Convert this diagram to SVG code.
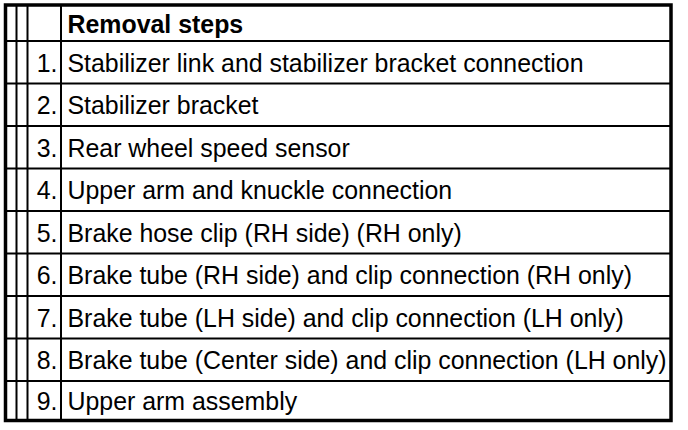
<svg xmlns="http://www.w3.org/2000/svg" width="688" height="430" viewBox="0 0 688 430">
<style>
.thick{stroke:#000;stroke-width:3.5;fill:none}
.thin{stroke:#000;stroke-width:2;fill:none}
.t{font-family:"Liberation Sans",Arial,sans-serif;font-size:24.9px;fill:#000}
.h{font-weight:bold}
.n{text-anchor:end}
</style>
<rect width="688" height="430" fill="#fff"/>
<g id="connectors">
<line class="thin" x1="16.5" y1="5" x2="16.5" y2="420"/>
<line class="thin" x1="27.5" y1="5" x2="27.5" y2="420"/>
<line class="thin" x1="61" y1="5" x2="61" y2="420"/>
<line class="thin" x1="5" y1="41" x2="671" y2="41"/>
<line class="thin" x1="5" y1="83.5" x2="671" y2="83.5"/>
<line class="thin" x1="5" y1="126" x2="671" y2="126"/>
<line class="thin" x1="5" y1="168.5" x2="671" y2="168.5"/>
<line class="thin" x1="5" y1="211" x2="671" y2="211"/>
<line class="thin" x1="5" y1="253.5" x2="671" y2="253.5"/>
<line class="thin" x1="5" y1="296" x2="671" y2="296"/>
<line class="thin" x1="5" y1="338.5" x2="671" y2="338.5"/>
<line class="thin" x1="5" y1="381" x2="671" y2="381"/>
<rect class="thick" x="5.5" y="5" width="665.5" height="415.5"/>
</g>
<g id="header"><text class="t h" x="67.5" y="32.5">Removal steps</text></g>
<g id="step1"><text class="t n" x="57.5" y="71.5">1.</text><text class="t" x="67.5" y="71.5">Stabilizer link and stabilizer bracket connection</text></g>
<g id="step2"><text class="t n" x="57.5" y="114">2.</text><text class="t" x="67.5" y="114">Stabilizer bracket</text></g>
<g id="step3"><text class="t n" x="57.5" y="156.5">3.</text><text class="t" x="67.5" y="156.5">Rear wheel speed sensor</text></g>
<g id="step4"><text class="t n" x="57.5" y="199">4.</text><text class="t" x="67.5" y="199">Upper arm and knuckle connection</text></g>
<g id="step5"><text class="t n" x="57.5" y="241.5">5.</text><text class="t" x="67.5" y="241.5">Brake hose clip (RH side) (RH only)</text></g>
<g id="step6"><text class="t n" x="57.5" y="284">6.</text><text class="t" x="67.5" y="284">Brake tube (RH side) and clip connection (RH only)</text></g>
<g id="step7"><text class="t n" x="57.5" y="326.5">7.</text><text class="t" x="67.5" y="326.5">Brake tube (LH side) and clip connection (LH only)</text></g>
<g id="step8"><text class="t n" x="57.5" y="369">8.</text><text class="t" x="67.5" y="369">Brake tube (Center side) and clip connection (LH only)</text></g>
<g id="step9"><text class="t n" x="57.5" y="410">9.</text><text class="t" x="67.5" y="410">Upper arm assembly</text></g>
</svg>
